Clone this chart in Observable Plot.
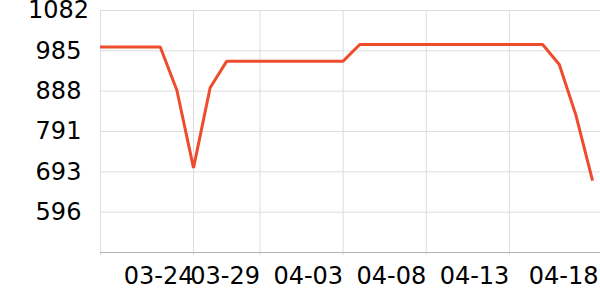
<!DOCTYPE html>
<html>
<head>
<meta charset="utf-8">
<script src="https://cdn.jsdelivr.net/npm/d3@7"></script>
<script src="https://cdn.jsdelivr.net/npm/@observablehq/plot@0.6"></script>
<style>
  html, body { margin: 0; padding: 0; background: #fff; }
</style>
</head>
<body>
<div id="chart"></div>
<script>
const dates = [
  "2024-03-19","2024-03-20","2024-03-21","2024-03-22","2024-03-23","2024-03-24","2024-03-25","2024-03-26",
  "2024-03-27","2024-03-28","2024-03-29","2024-03-30","2024-03-31","2024-04-01","2024-04-02","2024-04-03",
  "2024-04-04","2024-04-05","2024-04-06","2024-04-07","2024-04-08","2024-04-09","2024-04-10","2024-04-11",
  "2024-04-12","2024-04-13","2024-04-14","2024-04-15","2024-04-16","2024-04-17","2024-04-18"
];
const values = [
  994, 994, 994, 994, 994, 890, 703, 896,
  960, 960, 960, 960, 960, 960, 960, 960,
  1000, 1000, 1000, 1000, 1000, 1000, 1000, 1000,
  1000, 1000, 1000, 1000, 952, 830, 672
];
const xDomain = ["2024-03-19T09:45Z", "2024-04-18T11:30Z"];
const xTickDates = ["2024-03-25","2024-03-29","2024-04-03","2024-04-08","2024-04-13"];
const xTickLabels = ["03-24","03-29","04-03","04-08","04-13"];
const xLastTickDate = ["2024-04-18"];
const xLastTickLabel = ["04-18"];
const yDomain = [499, 1082];
const yTickValues = [596.2, 693.3, 790.5, 887.7, 984.8, 1082];
const yTickLabels = ["596","693","791","888","985","1082"];

const data = dates.map((d, i) => ({date: new Date(d), value: values[i]}));
const xd = xDomain.map(d => new Date(d));
const xt = xTickDates.map(d => new Date(d));
const xLast = xLastTickDate.map(d => new Date(d));

const chart = Plot.plot({
  width: 600,
  height: 300,
  marginLeft: 100,
  marginRight: 0,
  marginTop: 10,
  marginBottom: 48,
  style: {fontFamily: "DejaVu Sans", fontSize: "24px", background: "#fff", overflow: "visible"},
  x: {type: "time", domain: xd, axis: null},
  y: {domain: yDomain, axis: null},
  marks: [
    Plot.ruleY(yTickValues, {stroke: "#dddddd", strokeWidth: 1}),
    Plot.ruleX(xt, {stroke: "#dddddd", strokeWidth: 1, insetBottom: -3}),
    Plot.ruleX([xd[0]], {stroke: "#dddddd", strokeWidth: 1, insetBottom: -3}),
    Plot.ruleY([yDomain[0]], {stroke: "#b3b3b3", strokeWidth: 1}),
    Plot.line(data, {x: "date", y: "value", stroke: "#ee4c2c", strokeWidth: 3,
      strokeLinejoin: "miter", strokeLinecap: "butt", clip: true}),
    Plot.axisY(yTickValues, {
      tickSize: 0, tickPadding: 42, textAnchor: "middle",
      tickFormat: (d, i) => yTickLabels[i], fill: "#000", label: null
    }),
    Plot.axisX(xt, {
      tickSize: 0, tickPadding: 14, textAnchor: "end",
      tickFormat: (d, i) => xTickLabels[i], fill: "#000", label: null
    }),
    Plot.axisX(xLast, {
      tickSize: 0, tickPadding: 14, textAnchor: "end", dx: 6,
      tickFormat: (d, i) => xLastTickLabel[i], fill: "#000", label: null
    })
  ]
});
document.getElementById("chart").appendChild(chart);
</script>
</body>
</html>
